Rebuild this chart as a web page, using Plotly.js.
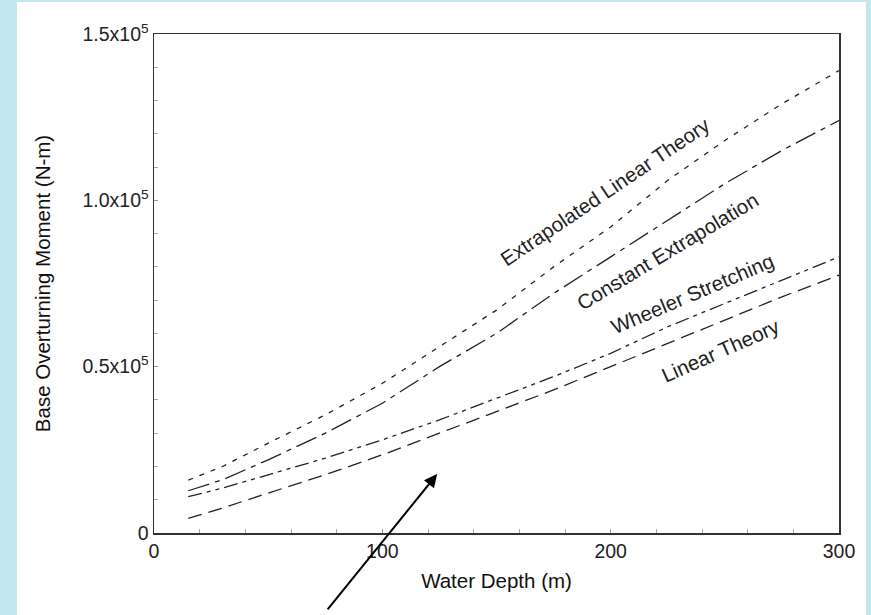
<!DOCTYPE html>
<html>
<head>
<meta charset="utf-8">
<script src="https://cdn.plot.ly/plotly-3.0.1.min.js"></script>
<style>html,body{margin:0;padding:0;background:#c0e8ee;}#chart{width:871px;height:615px;}</style>
</head>
<body>
<div id="chart"></div>
<script>
// Water depth (m)
const depth = [15, 30, 50, 75, 100, 125, 150, 175, 200, 225, 250, 275, 300];
// Base overturning moment (N-m)
const extrapolatedLinear = [15900, 20000, 27000, 35500, 45000, 56000, 67000, 80000, 92000, 106000, 118000, 129000, 139000];
const constantExtrap     = [12700, 16000, 22000, 30000, 39000, 50000, 60000, 72000, 83000, 94000, 105000, 115000, 124000];
const wheelerStretching  = [10900, 13500, 17500, 22500, 28000, 34000, 40500, 47000, 54000, 62000, 69000, 76000, 83000];
const linearTheory       = [4400, 7500, 12000, 17500, 23500, 30000, 36500, 43000, 50000, 57000, 64000, 71000, 77500];

const seriesNames = ["Extrapolated Linear Theory", "Constant Extrapolation", "Wheeler Stretching", "Linear Theory"];
const yTickVals = [0, 50000, 100000, 150000];
const yTickText = ["0", "0.5x10<sup>5</sup>", "1.0x10<sup>5</sup>", "1.5x10<sup>5</sup>"];
const xTickVals = [0, 100, 200, 300];

const lineCol = '#222';
const dashes = ["5px,7px", "22px,6px,5px,6px", "14px,5px,4px,5px,4px,5px", "14px,7px"];
const ys = [extrapolatedLinear, constantExtrap, wheelerStretching, linearTheory];

const traces = ys.map((y, i) => ({
  x: depth, y: y, type: 'scatter', mode: 'lines', name: seriesNames[i],
  line: {color: lineCol, width: 1.3, dash: dashes[i]}
}));

// label positions (data coords) and angles
const labelX = [197.5, 224.7, 235.7, 247.9];
const labelY = [102800, 84500, 72100, 55000];
const labelAngle = [-34, -31, -23, -24];

const font = "Arial, 'Liberation Sans', sans-serif";
const annotations = seriesNames.map((t, i) => ({
  x: labelX[i], y: labelY[i], xref: 'x', yref: 'y', text: t, showarrow: false,
  textangle: labelAngle[i], font: {family: font, size: 20.5, color: '#222'}
}));
annotations.push({
  x: 124, y: 17700, xref: 'x', yref: 'y', text: ' ', showarrow: true,
  ax: -114, ay: 146, axref: 'pixel', ayref: 'pixel',
  arrowhead: 2, arrowsize: 1.3, arrowwidth: 2, arrowcolor: '#000', standoff: 0
});

const layout = {
  width: 871, height: 615,
  margin: {l: 154, r: 32, t: 34, b: 82},
  paper_bgcolor: '#c0e8ee',
  plot_bgcolor: '#ffffff',
  showlegend: false,
  font: {family: font, size: 20, color: '#222'},
  shapes: [{
    type: 'rect', xref: 'paper', yref: 'paper', layer: 'below',
    x0: -0.2, x1: 1.0394, y0: -0.17, y1: 1.064,
    fillcolor: '#ffffff', line: {width: 0}
  }],
  xaxis: {
    range: [0, 300], tickmode: 'array', tickvals: xTickVals,
    ticks: 'inside', ticklen: 4, tickcolor: '#999',
    showgrid: false, zeroline: false,
    showline: true, mirror: true, linecolor: '#333', linewidth: 1.5,
    tickfont: {family: font, size: 19.5, color: '#222'},
    minor: {tickmode: 'linear', tick0: 0, dtick: 20, ticks: 'inside', ticklen: 4, tickcolor: '#aaa', showgrid: false},
    title: {text: 'Water Depth (m)', font: {family: font, size: 20.5, color: '#111'}, standoff: 12}
  },
  yaxis: {
    range: [0, 150000], tickmode: 'array', tickvals: yTickVals, ticktext: yTickText,
    ticks: 'inside', ticklen: 4, tickcolor: '#999',
    showgrid: false, zeroline: false,
    showline: true, mirror: true, linecolor: '#333', linewidth: 1.5,
    tickfont: {family: font, size: 19.5, color: '#222'},
    minor: {tickmode: 'linear', tick0: 0, dtick: 10000, ticks: 'inside', ticklen: 4, tickcolor: '#aaa', showgrid: false},
    title: {text: 'Base Overturning Moment (N-m)', font: {family: font, size: 20.5, color: '#111'}, standoff: 26}
  },
  annotations: annotations
};

Plotly.newPlot('chart', traces, layout, {displayModeBar: false, staticPlot: true});
</script>
</body>
</html>
